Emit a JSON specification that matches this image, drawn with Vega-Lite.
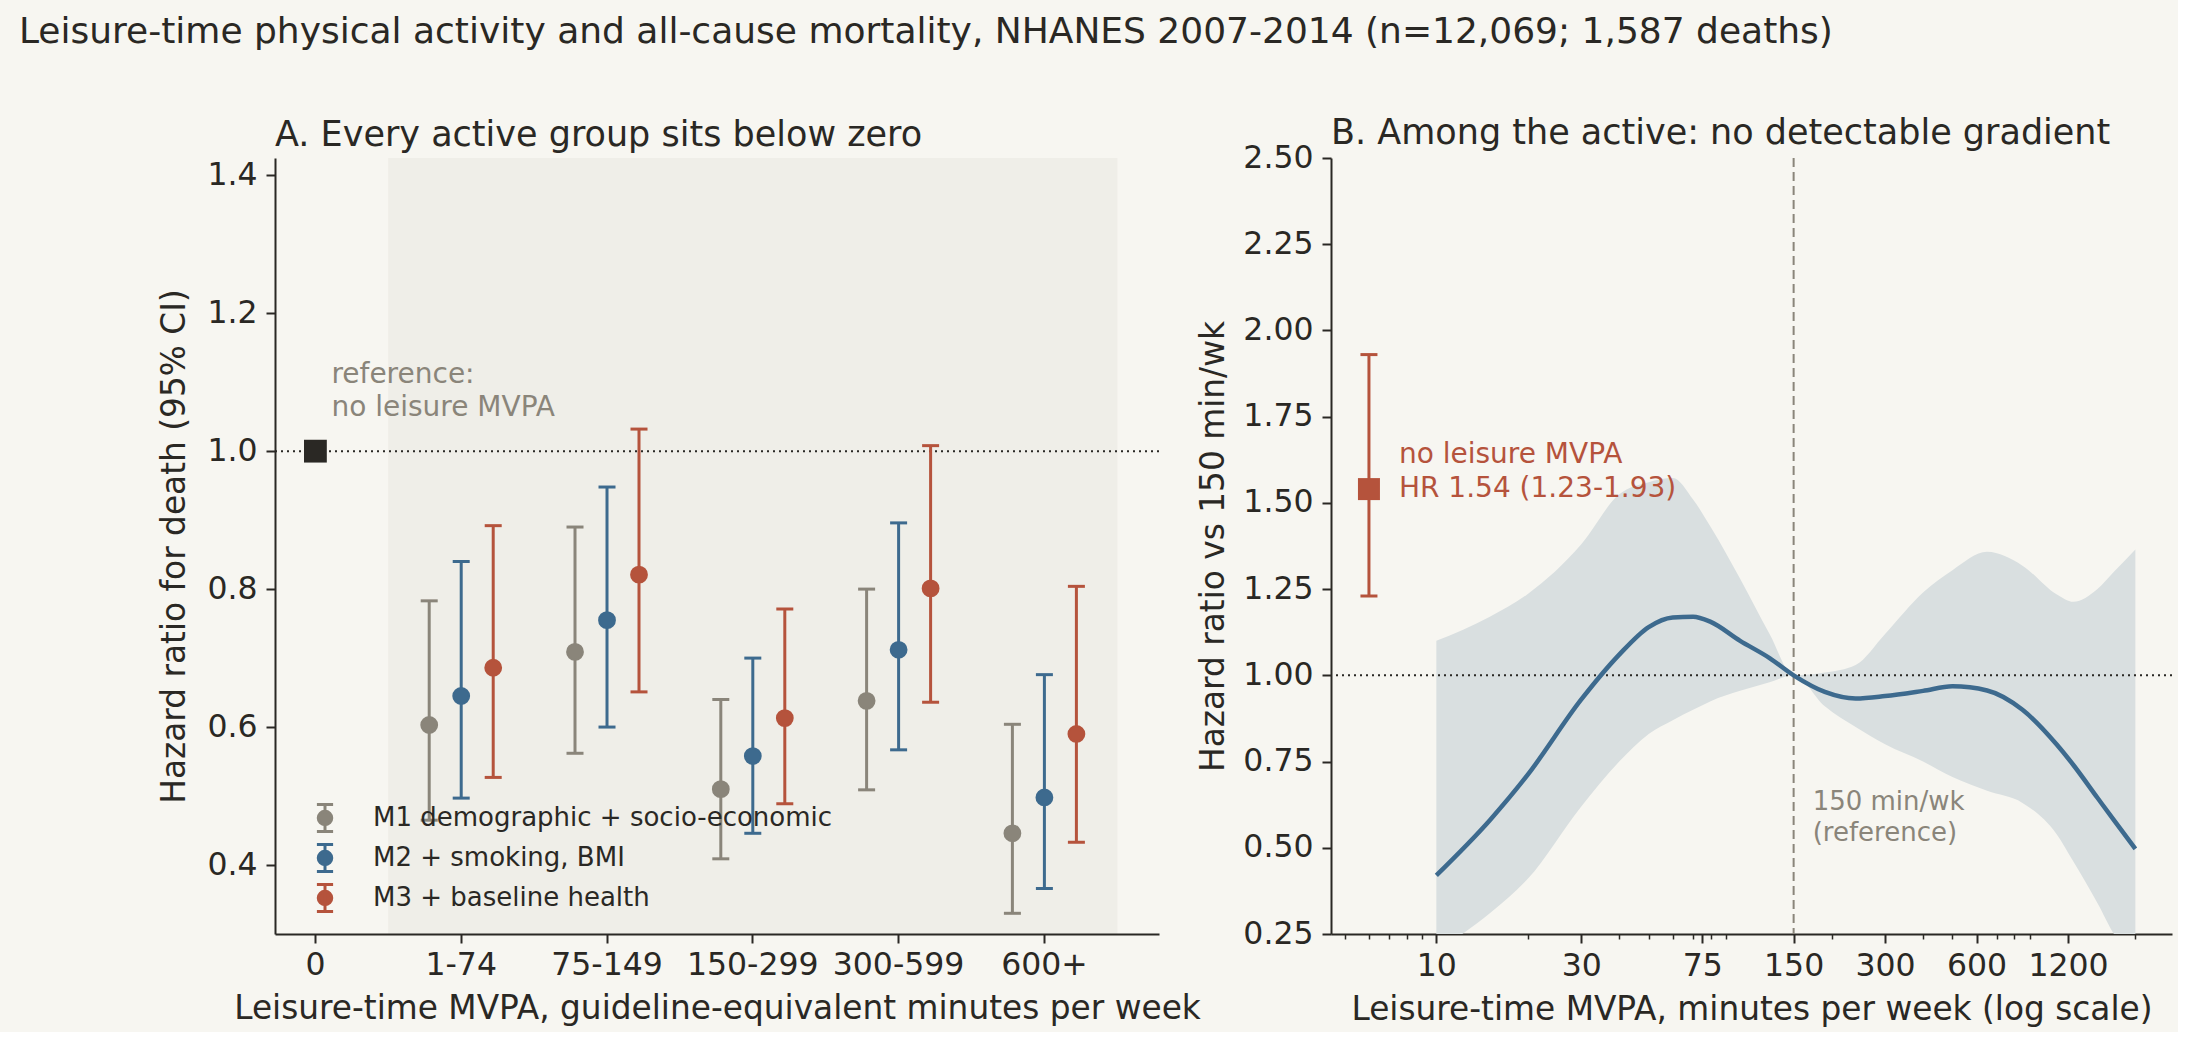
{
  "$schema": "https://vega.github.io/schema/vega-lite/v6.json",
  "background": "#f7f6f1",
  "padding": {"left": 18, "top": 14, "right": 5, "bottom": 5},
  "title": {
    "text": "Leisure-time physical activity and all-cause mortality, NHANES 2007-2014 (n=12,069; 1,587 deaths)",
    "anchor": "start",
    "fontSize": 36,
    "baseline": "alphabetic",
    "offset": 37,
    "dx": -140
  },
  "datasets": {
    "groups": [
      {"band": "1-74", "model": "M1 demographic + socio-economic", "hr": 0.603, "lo": 0.465, "hi": 0.783},
      {"band": "1-74", "model": "M2 + smoking, BMI", "hr": 0.645, "lo": 0.497, "hi": 0.840},
      {"band": "1-74", "model": "M3 + baseline health", "hr": 0.686, "lo": 0.527, "hi": 0.892},
      {"band": "75-149", "model": "M1 demographic + socio-economic", "hr": 0.709, "lo": 0.562, "hi": 0.890},
      {"band": "75-149", "model": "M2 + smoking, BMI", "hr": 0.755, "lo": 0.600, "hi": 0.948},
      {"band": "75-149", "model": "M3 + baseline health", "hr": 0.821, "lo": 0.651, "hi": 1.032},
      {"band": "150-299", "model": "M1 demographic + socio-economic", "hr": 0.510, "lo": 0.409, "hi": 0.640},
      {"band": "150-299", "model": "M2 + smoking, BMI", "hr": 0.558, "lo": 0.446, "hi": 0.700},
      {"band": "150-299", "model": "M3 + baseline health", "hr": 0.613, "lo": 0.489, "hi": 0.771},
      {"band": "300-599", "model": "M1 demographic + socio-economic", "hr": 0.638, "lo": 0.509, "hi": 0.800},
      {"band": "300-599", "model": "M2 + smoking, BMI", "hr": 0.712, "lo": 0.567, "hi": 0.896},
      {"band": "300-599", "model": "M3 + baseline health", "hr": 0.801, "lo": 0.636, "hi": 1.008},
      {"band": "600+", "model": "M1 demographic + socio-economic", "hr": 0.446, "lo": 0.330, "hi": 0.604},
      {"band": "600+", "model": "M2 + smoking, BMI", "hr": 0.498, "lo": 0.366, "hi": 0.676},
      {"band": "600+", "model": "M3 + baseline health", "hr": 0.590, "lo": 0.433, "hi": 0.804}
    ],
    "refA": [{"band": "0", "hr": 1.0}],
    "refB": [{"mvpa": 6, "hr": 1.54, "lo": 1.23, "hi": 1.93}],
    "spline": [
      {"mvpa": 10, "hr": 0.42, "lo": 0.20, "hi": 1.10},
      {"mvpa": 15, "hr": 0.58, "lo": 0.31, "hi": 1.17},
      {"mvpa": 20, "hr": 0.712, "lo": 0.41, "hi": 1.236},
      {"mvpa": 30, "hr": 0.93, "lo": 0.62, "hi": 1.38},
      {"mvpa": 40, "hr": 1.06, "lo": 0.75, "hi": 1.525},
      {"mvpa": 50, "hr": 1.14, "lo": 0.83, "hi": 1.56},
      {"mvpa": 60, "hr": 1.168, "lo": 0.87, "hi": 1.572},
      {"mvpa": 70, "hr": 1.17, "lo": 0.90, "hi": 1.51},
      {"mvpa": 80, "hr": 1.155, "lo": 0.925, "hi": 1.43},
      {"mvpa": 100, "hr": 1.10, "lo": 0.955, "hi": 1.28},
      {"mvpa": 125, "hr": 1.05, "lo": 0.98, "hi": 1.12},
      {"mvpa": 150, "hr": 1.0, "lo": 1.0, "hi": 1.0},
      {"mvpa": 190, "hr": 0.952, "lo": 0.91, "hi": 1.008},
      {"mvpa": 240, "hr": 0.933, "lo": 0.85, "hi": 1.03},
      {"mvpa": 300, "hr": 0.94, "lo": 0.80, "hi": 1.12},
      {"mvpa": 400, "hr": 0.955, "lo": 0.75, "hi": 1.24},
      {"mvpa": 500, "hr": 0.968, "lo": 0.705, "hi": 1.305},
      {"mvpa": 650, "hr": 0.956, "lo": 0.665, "hi": 1.358},
      {"mvpa": 850, "hr": 0.90, "lo": 0.63, "hi": 1.318},
      {"mvpa": 1100, "hr": 0.80, "lo": 0.54, "hi": 1.235},
      {"mvpa": 1250, "hr": 0.74, "lo": 0.46, "hi": 1.213},
      {"mvpa": 1500, "hr": 0.645, "lo": 0.34, "hi": 1.25},
      {"mvpa": 1700, "hr": 0.58, "lo": 0.25, "hi": 1.30},
      {"mvpa": 2000, "hr": 0.497, "lo": 0.18, "hi": 1.365}
    ]
  },
  "bounds": "flush",
  "spacing": 172,
  "hconcat": [
    {
      "width": 884,
      "height": 776,
      "title": {
        "text": "A. Every active group sits below zero",
        "anchor": "start",
        "frame": "group",
        "fontSize": 35,
        "baseline": "alphabetic",
        "offset": -23
      },
      "layer": [
        {
          "data": {"values": [{}]},
          "mark": {"type": "rect", "color": "#efeee8", "xOffset": -73, "x2Offset": 73},
          "encoding": {
            "x": {
              "datum": "1-74",
              "type": "nominal",
              "scale": {
                "type": "band",
                "domain": ["0", "1-74", "75-149", "150-299", "300-599", "600+"],
                "paddingInner": 1,
                "paddingOuter": 0.5316,
                "align": 0.2607
              },
              "axis": {
                "title": "Leisure-time MVPA, guideline-equivalent minutes per week",
                "labelAngle": 0,
                "labelPadding": 6,
                "titlePadding": 12
              }
            },
            "x2": {"datum": "600+"}
          }
        },
        {
          "data": {"values": [{}]},
          "mark": {"type": "rule", "color": "#2a2824", "strokeWidth": 2, "strokeDash": [2, 4]},
          "encoding": {
            "y": {
              "datum": 1,
              "type": "quantitative",
              "scale": {"domain": [0.30, 1.425], "nice": false, "zero": false},
              "axis": {
                "title": "Hazard ratio for death (95% CI)",
                "values": [0.4, 0.6, 0.8, 1.0, 1.2, 1.4],
                "format": ".1f",
                "titlePadding": 15
              }
            }
          }
        },
        {
          "data": {"name": "refA"},
          "mark": {"type": "square", "size": 520, "color": "#2a2824", "opacity": 1},
          "encoding": {
            "x": {"field": "band", "type": "nominal"},
            "y": {"field": "hr", "type": "quantitative"}
          }
        },
        {
          "data": {"values": [{}]},
          "mark": {
            "type": "text",
            "align": "left",
            "baseline": "middle",
            "dx": 16,
            "fontSize": 28,
            "lineHeight": 32.5,
            "color": "#8a857a"
          },
          "encoding": {
            "x": {"datum": "0", "type": "nominal"},
            "y": {"datum": 1.110, "type": "quantitative"},
            "text": {"value": ["reference:", "no leisure MVPA"]}
          }
        },
        {
          "data": {"name": "groups"},
          "mark": {"type": "rule", "strokeWidth": 3},
          "encoding": {
            "x": {"field": "band", "type": "nominal"},
            "xOffset": {
              "field": "model",
              "type": "nominal",
              "scale": {
                "type": "point",
                "domain": ["M1 demographic + socio-economic", "M2 + smoking, BMI", "M3 + baseline health"],
                "range": [-32, 32],
                "padding": 0
              }
            },
            "y": {"field": "lo", "type": "quantitative"},
            "y2": {"field": "hi"},
            "color": {
              "field": "model",
              "type": "nominal",
              "scale": {"range": ["#8a857a", "#3d6a8e", "#b5533c"]},
              "legend": null
            }
          }
        },
        {
          "data": {"name": "groups"},
          "mark": {"type": "tick", "orient": "horizontal", "size": 17, "thickness": 3, "opacity": 1},
          "encoding": {
            "x": {"field": "band", "type": "nominal"},
            "xOffset": {"field": "model", "type": "nominal"},
            "y": {"field": "lo", "type": "quantitative"},
            "color": {"field": "model", "type": "nominal", "legend": null}
          }
        },
        {
          "data": {"name": "groups"},
          "mark": {"type": "tick", "orient": "horizontal", "size": 17, "thickness": 3, "opacity": 1},
          "encoding": {
            "x": {"field": "band", "type": "nominal"},
            "xOffset": {"field": "model", "type": "nominal"},
            "y": {"field": "hi", "type": "quantitative"},
            "color": {"field": "model", "type": "nominal", "legend": null}
          }
        },
        {
          "data": {"name": "groups"},
          "mark": {"type": "circle", "size": 250, "opacity": 1},
          "encoding": {
            "x": {"field": "band", "type": "nominal"},
            "xOffset": {"field": "model", "type": "nominal"},
            "y": {"field": "hr", "type": "quantitative"},
            "fill": {
              "field": "model",
              "type": "nominal",
              "scale": {
                "domain": ["M1 demographic + socio-economic", "M2 + smoking, BMI", "M3 + baseline health"],
                "range": ["#8a857a", "#3d6a8e", "#b5533c"]
              },
              "legend": {
                "title": null,
                "orient": "none",
                "legendX": 35,
                "legendY": 645,
                "padding": 0,
                "symbolType": "M0,-1V1M-0.6,-1H0.6M-0.6,1H0.6M-0.5,0A0.5,0.5 0 1,0 0.5,0A0.5,0.5 0 1,0 -0.5,0Z",
                "symbolSize": 729,
                "symbolStrokeWidth": 3,
                "labelFontSize": 26,
                "labelColor": "#2a2824",
                "labelOffset": 33,
                "labelLimit": 0,
                "rowPadding": 0
              }
            },
            "stroke": {
              "field": "model",
              "type": "nominal",
              "scale": {
                "domain": ["M1 demographic + socio-economic", "M2 + smoking, BMI", "M3 + baseline health"],
                "range": ["#8a857a", "#3d6a8e", "#b5533c"]
              },
              "legend": {
                "title": null,
                "orient": "none",
                "legendX": 35,
                "legendY": 645,
                "padding": 0,
                "symbolType": "M0,-1V1M-0.6,-1H0.6M-0.6,1H0.6M-0.5,0A0.5,0.5 0 1,0 0.5,0A0.5,0.5 0 1,0 -0.5,0Z",
                "symbolSize": 729,
                "symbolStrokeWidth": 3,
                "labelFontSize": 26,
                "labelColor": "#2a2824",
                "labelOffset": 33,
                "labelLimit": 0,
                "rowPadding": 0
              }
            }
          }
        }
      ]
    },
    {
      "width": 841,
      "height": 776,
      "title": {
        "text": "B. Among the active: no detectable gradient",
        "anchor": "start",
        "frame": "group",
        "fontSize": 35,
        "baseline": "alphabetic",
        "offset": -37
      },
      "layer": [
        {
          "data": {"name": "spline"},
          "mark": {"type": "area", "color": "#d9dfe0", "opacity": 1, "interpolate": "monotone", "clip": true},
          "encoding": {
            "x": {
              "field": "mvpa",
              "type": "quantitative",
              "scale": {"type": "log", "domain": [4.5, 2640], "nice": false},
              "axis": {
                "title": "Leisure-time MVPA, minutes per week (log scale)",
                "values": [5, 6, 7, 8, 9, 10, 20, 30, 40, 50, 60, 70, 75, 80, 90, 150, 200, 300, 400, 500, 600, 700, 800, 900, 1200, 2000],
                "labelExpr": "indexof([10, 30, 75, 150, 300, 600, 1200], datum.value) >= 0 ? format(datum.value, 'd') : ''",
                "labelOverlap": false,
                "labelFlush": false,
                "labelPadding": 7,
                "titlePadding": 12,
                "tickSize": {"condition": {"test": "indexof([10, 30, 75, 150, 300, 600, 1200], datum.value) >= 0", "value": 9}, "value": 5},
                "tickWidth": {"condition": {"test": "indexof([10, 30, 75, 150, 300, 600, 1200], datum.value) >= 0", "value": 2}, "value": 1.5}
              }
            },
            "y": {
              "field": "lo",
              "type": "quantitative",
              "scale": {"domain": [0.25, 2.5], "nice": false, "zero": false},
              "axis": {
                "title": "Hazard ratio vs 150 min/wk",
                "values": [0.25, 0.5, 0.75, 1.0, 1.25, 1.5, 1.75, 2.0, 2.25, 2.5],
                "format": ".2f"
              }
            },
            "y2": {"field": "hi"}
          }
        },
        {
          "data": {"values": [{}]},
          "mark": {"type": "rule", "color": "#2a2824", "strokeWidth": 2, "strokeDash": [2, 4]},
          "encoding": {"y": {"datum": 1, "type": "quantitative"}}
        },
        {
          "data": {"values": [{}]},
          "mark": {"type": "rule", "color": "#8a857a", "strokeWidth": 2, "strokeDash": [9, 5]},
          "encoding": {"x": {"datum": 150, "type": "quantitative"}}
        },
        {
          "data": {"name": "spline"},
          "mark": {"type": "line", "color": "#3d6a8e", "strokeWidth": 4.5, "interpolate": "monotone"},
          "encoding": {
            "x": {"field": "mvpa", "type": "quantitative"},
            "y": {"field": "hr", "type": "quantitative"}
          }
        },
        {
          "data": {"name": "refB"},
          "mark": {"type": "rule", "color": "#b5533c", "strokeWidth": 3},
          "encoding": {
            "x": {"field": "mvpa", "type": "quantitative"},
            "y": {"field": "lo", "type": "quantitative"},
            "y2": {"field": "hi"}
          }
        },
        {
          "data": {"name": "refB"},
          "mark": {"type": "tick", "orient": "horizontal", "size": 17, "thickness": 3, "color": "#b5533c", "opacity": 1},
          "encoding": {
            "x": {"field": "mvpa", "type": "quantitative"},
            "y": {"field": "lo", "type": "quantitative"}
          }
        },
        {
          "data": {"name": "refB"},
          "mark": {"type": "tick", "orient": "horizontal", "size": 17, "thickness": 3, "color": "#b5533c", "opacity": 1},
          "encoding": {
            "x": {"field": "mvpa", "type": "quantitative"},
            "y": {"field": "hi", "type": "quantitative"}
          }
        },
        {
          "data": {"name": "refB"},
          "mark": {"type": "square", "size": 484, "color": "#b5533c", "opacity": 1},
          "encoding": {
            "x": {"field": "mvpa", "type": "quantitative"},
            "y": {"field": "hr", "type": "quantitative"}
          }
        },
        {
          "data": {"values": [{}]},
          "mark": {
            "type": "text",
            "align": "left",
            "baseline": "middle",
            "dx": 30,
            "fontSize": 28,
            "lineHeight": 34,
            "color": "#b5533c"
          },
          "encoding": {
            "x": {"datum": 6, "type": "quantitative"},
            "y": {"datum": 1.639, "type": "quantitative"},
            "text": {"value": ["no leisure MVPA", "HR 1.54 (1.23-1.93)"]}
          }
        },
        {
          "data": {"values": [{}]},
          "mark": {
            "type": "text",
            "align": "left",
            "baseline": "middle",
            "dx": 19,
            "fontSize": 26,
            "lineHeight": 31,
            "color": "#8a857a"
          },
          "encoding": {
            "x": {"datum": 150, "type": "quantitative"},
            "y": {"datum": 0.633, "type": "quantitative"},
            "text": {"value": ["150 min/wk", "(reference)"]}
          }
        }
      ]
    }
  ],
  "config": {
    "font": "DejaVu Sans",
    "view": {"stroke": null},
    "axis": {
      "grid": false,
      "domainColor": "#2a2824",
      "domainWidth": 2,
      "tickColor": "#2a2824",
      "tickWidth": 2,
      "tickSize": 9,
      "labelFont": "DejaVu Sans",
      "labelFontSize": 31.5,
      "labelColor": "#2a2824",
      "labelPadding": 9,
      "titleFont": "DejaVu Sans",
      "titleFontSize": 32.8,
      "titleFontWeight": "normal",
      "titleColor": "#2a2824",
      "titlePadding": 12
    },
    "legend": {"labelFont": "DejaVu Sans"},
    "title": {"font": "DejaVu Sans", "fontWeight": "normal", "color": "#2a2824"}
  }
}
